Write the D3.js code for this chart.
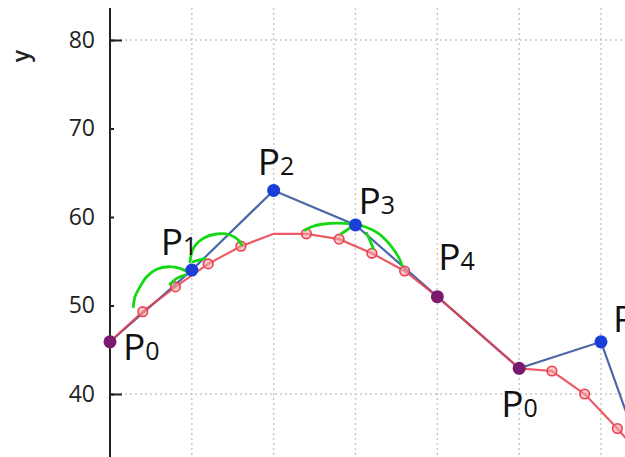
<!DOCTYPE html>
<html>
<head>
<meta charset="utf-8">
<title>B-spline control polygon</title>
<script src="https://cdn.jsdelivr.net/npm/d3@7"></script>
<style>
  html, body { margin: 0; padding: 0; background: #fff; }
  svg { display: block; }
  .tick text { font-family: "Open Sans", sans-serif; font-size: 23px; fill: #222; }
  .lbl { font-family: "Open Sans", sans-serif; fill: #111; }
</style>
</head>
<body>
<svg id="chart" width="625" height="457"></svg>
<script>
// control polygon (blue)
const ctrlX = [0, 1, 2, 3, 4, 5, 6, 7];
const ctrlY = [45.9, 54, 63, 59.1, 51, 42.9, 45.9, 20];
const knotIdx = [0, 4, 5];           // points drawn purple (curve passes through)

// evaluated curve (red)
const curveX = [0, 0.4, 0.8, 1.2, 1.6, 2.0, 2.4, 2.8, 3.2, 3.6, 4.0, 5.0, 5.4, 5.8, 6.2, 6.6];
const curveY = [45.9, 49.3, 52.1, 54.7, 56.7, 58.1, 58.1, 57.5, 55.9, 53.9, 51, 42.9, 42.6, 40.0, 36.1, 31.8];

// point labels P0..P4, P0, P1
const labelSub = ['0', '1', '2', '3', '4', '0', '1'];
const labelDx = [13, -31, -16, 3, 1, -18, 12];
const labelDy = [18, -15, -15, -11, -27, 49, -10];

// y axis
const yTicks = [40, 50, 60, 70, 80];
const yMajor = [40, 80];
const xGrid = [1, 2, 3, 4, 5, 6, 7];

// hand drawn green arcs (data units)
const arcs = [
  [[0.285, 49.86], [0.306, 51.0], [0.367, 52.12], [0.448, 53.25], [0.571, 54.09], [0.712, 54.38], [0.855, 54.2], [0.957, 53.75]],
  [[0.978, 54.92], [1.018, 56.46], [1.140, 57.59], [1.304, 58.08], [1.466, 57.97], [1.568, 57.4], [1.609, 56.84]],
  [[2.383, 58.53], [2.465, 58.9], [2.587, 59.18], [2.872, 59.29], [2.994, 59.1]],
  [[3.015, 59.1], [3.116, 58.9], [3.279, 58.14], [3.442, 56.63], [3.544, 55.14], [3.565, 54.58]]
];
const hooks = [
  [[0.917, 53.45], [0.815, 53.07], [0.733, 52.4]],
  [[1.018, 54.95], [1.161, 55.33]],
  [[2.954, 58.9], [2.831, 58.14]],
  [[3.137, 58.16], [3.218, 56.46]]
];

const svg = d3.select('#chart');
const W = 625, H = 457;

const x = d3.scaleLinear().domain([0, 6]).range([110, 601]);
const y = d3.scaleLinear().domain([40, 80]).range([394, 40]);

// grid
svg.append('g').selectAll('line')
  .data(xGrid)
  .enter().append('line')
  .attr('x1', d => x(d)).attr('x2', d => x(d))
  .attr('y1', 8).attr('y2', H)
  .attr('stroke', '#c8c8c8').attr('stroke-width', 1.5)
  .attr('stroke-dasharray', '2,3');

svg.append('g').selectAll('line')
  .data(yMajor)
  .enter().append('line')
  .attr('x1', x(0)).attr('x2', W)
  .attr('y1', d => y(d)).attr('y2', d => y(d))
  .attr('stroke', '#c8c8c8').attr('stroke-width', 1.5)
  .attr('stroke-dasharray', '2,3');

// axis: minor ticks with labels, then longer major ticks
const ax = svg.append('g')
  .attr('transform', `translate(${x(0)},0)`)
  .call(d3.axisLeft(y).tickValues(yTicks).tickSize(-4).tickPadding(15));
ax.select('.domain').remove();
ax.selectAll('.tick line').attr('stroke', '#222').attr('stroke-width', 2);

svg.append('g')
  .attr('transform', `translate(${x(0)},0)`)
  .call(d3.axisLeft(y).tickValues(yMajor).tickSize(-12).tickFormat(''))
  .call(g => g.select('.domain').remove())
  .selectAll('.tick line').attr('stroke', '#222').attr('stroke-width', 2);

svg.append('line')
  .attr('x1', x(0)).attr('x2', x(0))
  .attr('y1', 8).attr('y2', H)
  .attr('stroke', '#222').attr('stroke-width', 2);

svg.append('text')
  .attr('transform', 'translate(29,56) rotate(-90)')
  .attr('text-anchor', 'middle')
  .style('font-family', '"Open Sans", sans-serif')
  .style('font-size', '23px')
  .style('font-weight', 600)
  .attr('fill', '#222')
  .text('y');

// lines
const ctrl = ctrlX.map((d, i) => [d, ctrlY[i]]);
const curve = curveX.map((d, i) => [d, curveY[i]]);
const line = d3.line().x(d => x(d[0])).y(d => y(d[1]));

svg.append('path')
  .datum(ctrl)
  .attr('d', line)
  .attr('fill', 'none')
  .attr('stroke', '#4a68a8')
  .attr('stroke-width', 2.2);

svg.append('path')
  .datum(curve)
  .attr('d', line)
  .attr('fill', 'none')
  .attr('stroke', '#e8404c')
  .attr('stroke-opacity', 0.85)
  .attr('stroke-width', 2.2);

// red sample markers
svg.append('g').selectAll('circle')
  .data(curve.filter(d => !ctrlX.includes(d[0])))
  .enter().append('circle')
  .attr('cx', d => x(d[0])).attr('cy', d => y(d[1]))
  .attr('r', 4.8)
  .attr('fill', '#f8a0a0').attr('fill-opacity', 0.6)
  .attr('stroke', '#e84050').attr('stroke-width', 1.6);

// green arcs
const arcLine = d3.line().x(d => x(d[0])).y(d => y(d[1])).curve(d3.curveCatmullRom);
svg.append('g').selectAll('path')
  .data(arcs.concat(hooks))
  .enter().append('path')
  .attr('d', arcLine)
  .attr('fill', 'none')
  .attr('stroke', '#14d814')
  .attr('stroke-width', 2.8)
  .attr('stroke-linecap', 'round');

// control point markers
svg.append('g').selectAll('circle')
  .data(ctrl)
  .enter().append('circle')
  .attr('cx', d => x(d[0])).attr('cy', d => y(d[1]))
  .attr('r', 6.5)
  .attr('fill', (d, i) => knotIdx.includes(i) ? '#7a1a6e' : '#1a3ed6');

// labels
const lbl = svg.append('g').selectAll('text')
  .data(labelSub)
  .enter().append('text')
  .attr('class', 'lbl')
  .attr('x', (d, i) => x(ctrlX[i]) + labelDx[i])
  .attr('y', (d, i) => y(ctrlY[i]) + labelDy[i]);
lbl.append('tspan').style('font-size', '37px').text('P');
lbl.append('tspan').style('font-size', '25px').text(d => d);
</script>
</body>
</html>
